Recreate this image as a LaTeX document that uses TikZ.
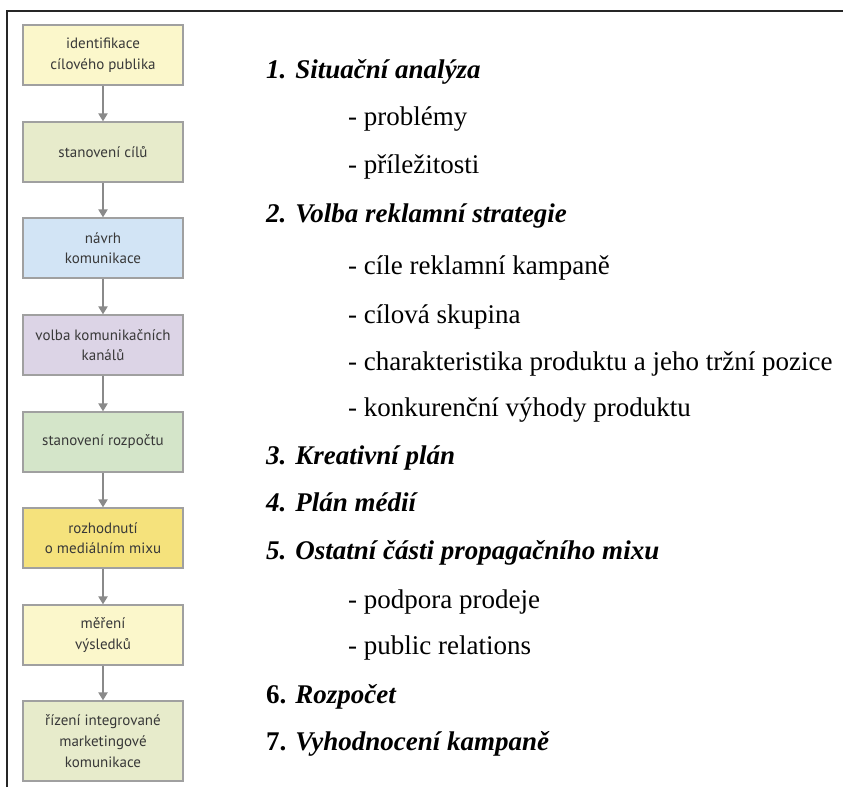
\documentclass[tikz,border=0pt]{standalone}
\usepackage{fontspec}
\setmainfont{Liberation Serif}
\newfontfamily\boxfont{PT Sans}
\usetikzlibrary{arrows.meta}
\definecolor{cA}{HTML}{FBF7CB}
\definecolor{cB}{HTML}{E7EBCB}
\definecolor{cC}{HTML}{D2E4F5}
\definecolor{cD}{HTML}{DCD4E6}
\definecolor{cE}{HTML}{D4E5C9}
\definecolor{cF}{HTML}{F5E27C}
\definecolor{bordergray}{HTML}{A0A0A0}
\definecolor{arrowgray}{HTML}{8A8A8A}
\definecolor{boxtext}{HTML}{383838}
\tikzset{
  stepbox/.style={draw=bordergray, line width=1.2pt, minimum width=160pt, minimum height=60pt,
    inner sep=2pt, align=center, text=boxtext, font=\boxfont\fontsize{15}{20.5}\selectfont},
  flow/.style={draw=arrowgray, line width=2.4pt, -{Triangle[length=8pt,width=9pt]}},
  head/.style={anchor=base west, inner sep=0pt, font=\fontsize{27}{32}\selectfont\bfseries},
  sub/.style={anchor=base west, inner sep=0pt, font=\fontsize{27}{32}\selectfont},
}
\begin{document}
\begin{tikzpicture}[x=1pt,y=-1pt]
\useasboundingbox (0,0) rectangle (843,787);
\fill[white] (0,0) rectangle (843,787);
% frame
\draw[line width=2pt, black!85] (7,787) -- (7,11) -- (843,11);
% flow boxes
\node[stepbox, fill=cA] (b1) at (103,55) {identifikace\\cílového publika};
\node[stepbox, fill=cB] (b2) at (103,152) {stanovení cílů};
\node[stepbox, fill=cC] (b3) at (103,248) {návrh\\komunikace};
\node[stepbox, fill=cD] (b4) at (103,345) {volba komunikačních\\kanálů};
\node[stepbox, fill=cE] (b5) at (103,442) {stanovení rozpočtu};
\node[stepbox, fill=cF] (b6) at (103,538) {rozhodnutí\\o mediálním mixu};
\node[stepbox, fill=cA] (b7) at (103,635) {měření\\výsledků};
\node[stepbox, fill=cB, minimum height=80pt, font=\boxfont\fontsize{15}{21}\selectfont] (b8) at (103,741) {řízení integrované\\marketingové\\komunikace};
\draw[flow] (b1) -- (b2);
\draw[flow] (b2) -- (b3);
\draw[flow] (b3) -- (b4);
\draw[flow] (b4) -- (b5);
\draw[flow] (b5) -- (b6);
\draw[flow] (b6) -- (b7);
\draw[flow] (b7) -- (b8);
% right list
\node[head] (h1) at (266,78) {\itshape 1. Situační analýza};
\node[sub] (s11) at (348,125) {- problémy};
\node[sub] (s12) at (348,173) {- příležitosti};
\node[head] (h2) at (266,222) {\itshape 2. Volba reklamní strategie};
\node[sub] (s21) at (348,274) {- cíle reklamní kampaně};
\node[sub] (s22) at (348,323) {- cílová skupina};
\node[sub] (s23) at (348,370) {- charakteristika produktu a jeho tržní pozice};
\node[sub] (s24) at (348,416) {- konkurenční výhody produktu};
\node[head] (h3) at (266,464) {\itshape 3. Kreativní plán};
\node[head] (h4) at (266,511) {\itshape 4. Plán médií};
\node[head] (h5) at (266,559) {\itshape 5. Ostatní části propagačního mixu};
\node[sub] (s51) at (348,608) {- podpora prodeje};
\node[sub] (s52) at (348,654) {- public relations};
\node[head] (h6) at (266,703) {6. \textit{Rozpočet}};
\node[head] (h7) at (266,750) {7. \textit{Vyhodnocení kampaně}};
\end{tikzpicture}
\end{document}
